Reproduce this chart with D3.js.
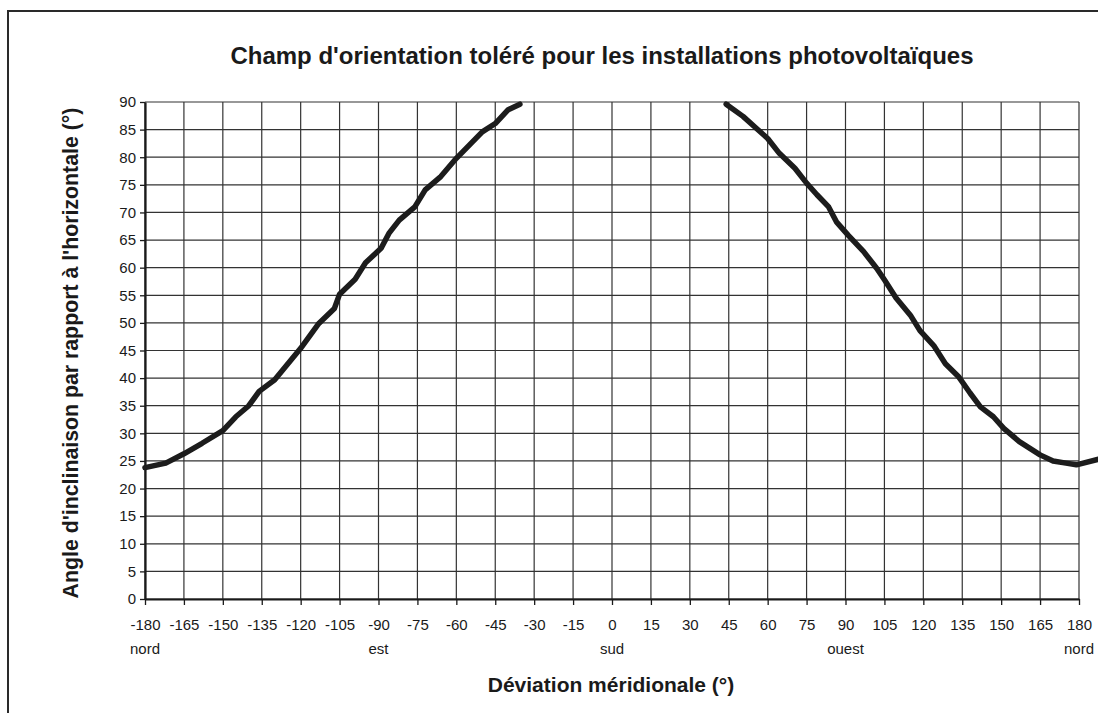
<!DOCTYPE html>
<html>
<head>
<meta charset="utf-8">
<script src="https://cdn.jsdelivr.net/npm/d3@7"></script>
<style>
  body { margin: 0; background: #fff; }
  svg { font-family: "Liberation Sans", Arial, sans-serif; }
</style>
</head>
<body>
<svg width="1098" height="713"></svg>
<script>
// tolerated orientation field - east branch (left) and west branch (right)
var eastDeviation = [-180, -172, -165, -158, -150, -145, -140, -136, -130, -120, -113, -107, -105, -99, -95, -89, -86, -82, -76, -72, -66, -60, -55, -50, -45, -40, -35.5];
var eastTilt      = [23.8, 24.6, 26.3, 28.2, 30.5, 33.0, 35.0, 37.6, 39.7, 45.4, 49.9, 52.6, 55.2, 57.9, 60.9, 63.5, 66.2, 68.6, 71.0, 74.1, 76.5, 79.8, 82.2, 84.6, 86.1, 88.6, 89.6];

var westDeviation = [44, 50.5, 55.5, 60, 64.5, 70.5, 75, 79, 83.5, 86.5, 91, 97, 102, 105, 109.5, 115, 118.7, 124, 128.5, 133.5, 138, 142, 147, 151, 157, 165, 170, 175, 179, 187.5];
var westTilt      = [89.6, 87.4, 85.3, 83.4, 80.7, 78.0, 75.3, 73.2, 71.0, 68.3, 65.9, 62.9, 59.9, 57.8, 54.5, 51.4, 48.6, 45.9, 42.6, 40.3, 37.3, 34.8, 33.0, 30.9, 28.5, 26.1, 25.0, 24.6, 24.3, 25.3];

var xTicks = d3.range(-180, 181, 15);
var yTicks = d3.range(0, 91, 5);
var directionNames = ["nord", "est", "sud", "ouest", "nord"];
var directionAt    = [-180, -90, 0, 90, 180];

var svg = d3.select("svg"),
    margin = {top: 102, right: 19, bottom: 114, left: 145},
    width = +svg.attr("width") - margin.left - margin.right,
    height = +svg.attr("height") - margin.top - margin.bottom;

// outer frame (runs off the right and bottom edge)
svg.append("rect")
    .attr("x", 8).attr("y", 11)
    .attr("width", 1200).attr("height", 800)
    .attr("fill", "none")
    .attr("stroke", "#2a2a2a")
    .attr("stroke-width", 2);

var x = d3.scaleLinear().domain([-180, 180]).range([0, width]),
    y = d3.scaleLinear().domain([0, 90]).range([height, 0]);

var g = svg.append("g")
    .attr("transform", "translate(" + margin.left + "," + margin.top + ")");

// grid
g.append("g").selectAll("line")
  .data(yTicks)
  .enter().append("line")
    .attr("x1", 0).attr("x2", width)
    .attr("y1", function(d) { return y(d); })
    .attr("y2", function(d) { return y(d); })
    .attr("stroke", "#333").attr("stroke-width", 1.2);

g.append("g").selectAll("line")
  .data(xTicks)
  .enter().append("line")
    .attr("y1", 0).attr("y2", height)
    .attr("x1", function(d) { return x(d); })
    .attr("x2", function(d) { return x(d); })
    .attr("stroke", "#333").attr("stroke-width", 1.2);

// x axis
var xAxis = g.append("g")
    .attr("transform", "translate(0," + height + ")")
    .call(d3.axisBottom(x).tickValues(xTicks).tickFormat(function(d) { return String(d); })
      .tickSize(6).tickPadding(14).tickSizeOuter(0));

// y axis
var yAxis = g.append("g")
    .call(d3.axisLeft(y).tickValues(yTicks).tickFormat(function(d) { return String(d); })
      .tickSize(5).tickPadding(4).tickSizeOuter(0));

[xAxis, yAxis].forEach(function(a) {
  a.select(".domain").attr("stroke", "#1a1a1a").attr("stroke-width", 2.2);
  a.selectAll(".tick line").attr("stroke", "#1a1a1a").attr("stroke-width", 1.3);
  a.selectAll(".tick text")
    .attr("fill", "#1a1a1a")
    .style("font-size", "15px")
    .style("font-family", "'Liberation Sans', Arial, sans-serif");
});

// direction labels under the ticks
g.append("g").selectAll("text")
  .data(directionAt)
  .enter().append("text")
    .attr("x", function(d) { return x(d); })
    .attr("y", height + 55)
    .attr("text-anchor", "middle")
    .attr("fill", "#1a1a1a")
    .style("font-size", "15px")
    .text(function(d, i) { return directionNames[i]; });

// curves
var line = d3.line()
    .x(function(d) { return x(d[0]); })
    .y(function(d) { return y(d[1]); });

var east = eastDeviation.map(function(d, i) { return [d, eastTilt[i]]; });
var west = westDeviation.map(function(d, i) { return [d, westTilt[i]]; });

[east, west].forEach(function(s) {
  g.append("path")
    .datum(s)
    .attr("d", line)
    .attr("fill", "none")
    .attr("stroke", "#1c1c1c")
    .attr("stroke-width", 5.5)
    .attr("stroke-linejoin", "round")
    .attr("stroke-linecap", "round");
});

// titles
svg.append("text")
    .attr("x", 602).attr("y", 64)
    .attr("text-anchor", "middle")
    .attr("fill", "#1a1a1a")
    .style("font-size", "24px").style("font-weight", "bold")
    .text("Champ d'orientation toléré pour les installations photovoltaïques");

svg.append("text")
    .attr("x", 611).attr("y", 692)
    .attr("text-anchor", "middle")
    .attr("fill", "#1a1a1a")
    .style("font-size", "21px").style("font-weight", "bold")
    .text("Déviation méridionale (°)");

svg.append("text")
    .attr("transform", "translate(78,353) rotate(-90)")
    .attr("text-anchor", "middle")
    .attr("fill", "#1a1a1a")
    .style("font-size", "21.3px").style("font-weight", "bold")
    .text("Angle d'inclinaison par rapport à l'horizontale (°)");
</script>
</body>
</html>
